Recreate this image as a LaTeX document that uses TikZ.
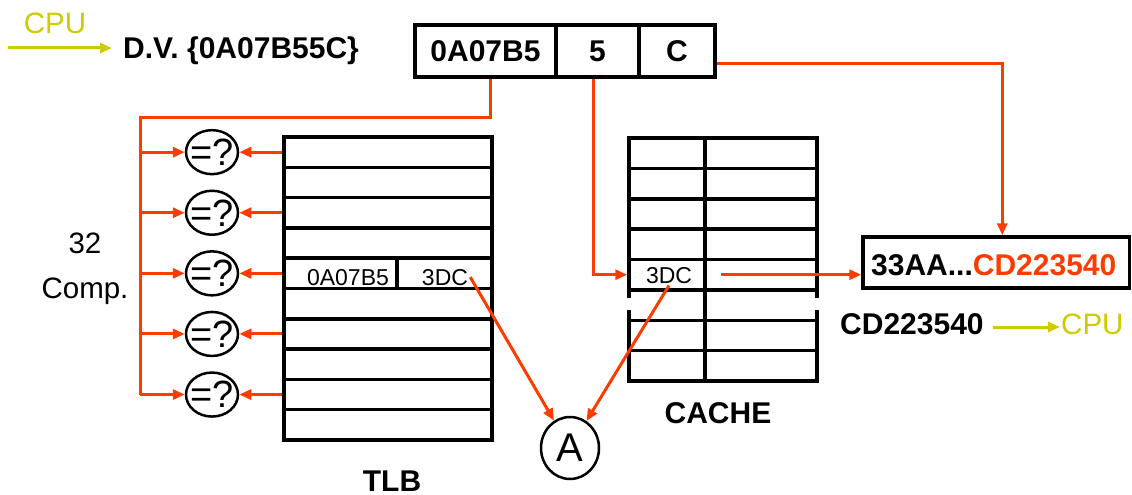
\documentclass[tikz,border=0pt]{standalone}
\usepackage{fontspec}
\setmainfont{Liberation Sans}
\usetikzlibrary{arrows.meta,shapes.geometric}
\definecolor{hitred}{RGB}{255,60,0}
\definecolor{cpuyel}{RGB}{204,204,0}
\newcommand{\fsz}[1]{\fontsize{#1}{#1}\selectfont}

\begin{document}
\begin{tikzpicture}[x=1pt, y=-1pt, >={Triangle[length=12pt,width=10pt]},
	bigtxt/.style={font=\fsz{30}\bfseries, inner sep=0pt},
	thintxt/.style={font=\fsz{29.5}, inner sep=0pt},
	celltxt/.style={font=\fsz{23}, inner sep=2pt},
	cell/.style={draw, line width=3.5pt, inner sep=0pt, minimum height=30.3pt},
	field/.style={draw, line width=3.5pt, inner sep=0pt, minimum height=52pt, font=\fsz{30}\bfseries},
	cmpbox/.style={ellipse, draw, line width=2.5pt, inner sep=0pt, minimum width=52pt, minimum height=44pt, font=\fsz{38}},
	redline/.style={hitred, line width=3pt},
	redarrow/.style={hitred, line width=3pt, ->},
	cpuarrow/.style={cpuyel, line width=3pt, ->}]
	\useasboundingbox (0,0) rectangle (1132,495);
	
	% Incoming virtual address
	\coordinate (inS) at (8,48);
	\coordinate (inE) at (112,48);
	\draw[cpuarrow] (inS) -- (inE);
	\node[thintxt, text=cpuyel, anchor=base] (cpuin) at (55,34) {CPU};
	\node[bigtxt, anchor=base west] (dv) at (123,59) {D.V. \{0A07B55C\}};
	
	% Address fields
	\node[field, minimum width=141pt] (vpn) at (485.5,51) {0A07B5};
	\node[field, minimum width=83pt] (idx) at (597.5,51) {5};
	\node[field, minimum width=76pt] (off) at (677,51) {C};
	
	% TLB rows
	\foreach \i in {0,...,9}
		\node[cell, minimum width=208pt] (t\i) at (388,152.15+30.3*\i) {};
	\node[cell, minimum width=113pt] (t4l) at (340.5,273.35) {};
	\node[cell, minimum width=95pt] (t4r) at (444.5,273.35) {};
	\node[celltxt, anchor=base] (tvpn) at (348,285) {0A07B5};
	\node[celltxt, anchor=base] (tdc) at (445,285) {3DC};
	\node[bigtxt, anchor=base] (tlbname) at (392,491) {TLB};
	
	% Comparators
	\foreach \i in {0,2,4,6,8}
		\node[cmpbox] (cmp\i) at (212,152.15+30.3*\i) {\makebox[0pt]{=?}};
	\node[thintxt, anchor=base] (cnt) at (85,253) {32};
	\node[thintxt, anchor=base] (cmpname) at (85,298) {Comp.};
	
	% Cache rows (row 5 left open at the sides)
	\foreach \i in {0,1,2,3,4,6,7} {
		\node[cell, minimum width=76pt, minimum height=30.375pt] (cl\i) at (667,153.19+30.375*\i) {};
		\node[cell, minimum width=112pt, minimum height=30.375pt] (cr\i) at (761,153.19+30.375*\i) {};
	}
	\node[inner sep=0pt, minimum width=76pt, minimum height=30.375pt] (cl5) at (667,305.06) {};
	\node[inner sep=0pt, minimum width=112pt, minimum height=30.375pt] (cr5) at (761,305.06) {};
	\draw[line width=3.5pt] (cl5.north east) -- (cl5.south east);
	\draw[line width=3.5pt] (cl5.north west) -- ++(0,8) (cl5.south west) -- ++(0,-10.5);
	\draw[line width=3.5pt] (cr5.north east) -- ++(0,8) (cr5.south east) -- ++(0,-10.5);
	\node[celltxt, anchor=base] (cdc) at (669,283) {3DC};
	\node[bigtxt, anchor=base] (cachename) at (718,423) {CACHE};
	
	% Result word
	\node[draw, line width=3.5pt, inner sep=0pt, minimum width=266.5pt, minimum height=51pt] (res) at (996.25,262.5) {};
	\node[bigtxt, anchor=base west] (restxt) at (871,275) {33AA...\textcolor{hitred}{CD223540}};
	\node[bigtxt, anchor=base west] (word) at (840,334) {CD223540};
	\coordinate (outS) at (993,327);
	\coordinate (outE) at (1060,327);
	\draw[cpuarrow] (outS) -- (outE);
	\node[thintxt, text=cpuyel, anchor=base west] (cpuout) at (1061,334) {CPU};
	
	% Hit node
	\node[ellipse, draw, line width=2.5pt, inner sep=0pt, minimum width=58pt, minimum height=62pt, font=\fsz{40}] (A) at (570,448) {A};
	
	% Red connections
	\coordinate (bus) at (140,117);
	\draw[redline] ([xshift=5pt]vpn.south) |- (bus) -- (bus |- cmp8);
	\foreach \i in {0,2,4,6,8} {
		\draw[redarrow] (bus |- cmp\i) -- (cmp\i.west);
		\draw[redarrow] (t\i.west) -- (cmp\i.east);
	}
	\draw[redarrow] ([xshift=-4pt]idx.south) |- (cl4.west);
	\draw[redarrow] ([yshift=-13pt]off.east) -| ([xshift=6pt]res.north);
	\draw[redarrow] ([xshift=18pt]cr4.west) -- (cr4.west -| res.west);
	\draw[redarrow] (tdc.east) -- (A);
	\draw[redarrow] (cdc.south) -- (A);
	
\end{tikzpicture}
\end{document}
